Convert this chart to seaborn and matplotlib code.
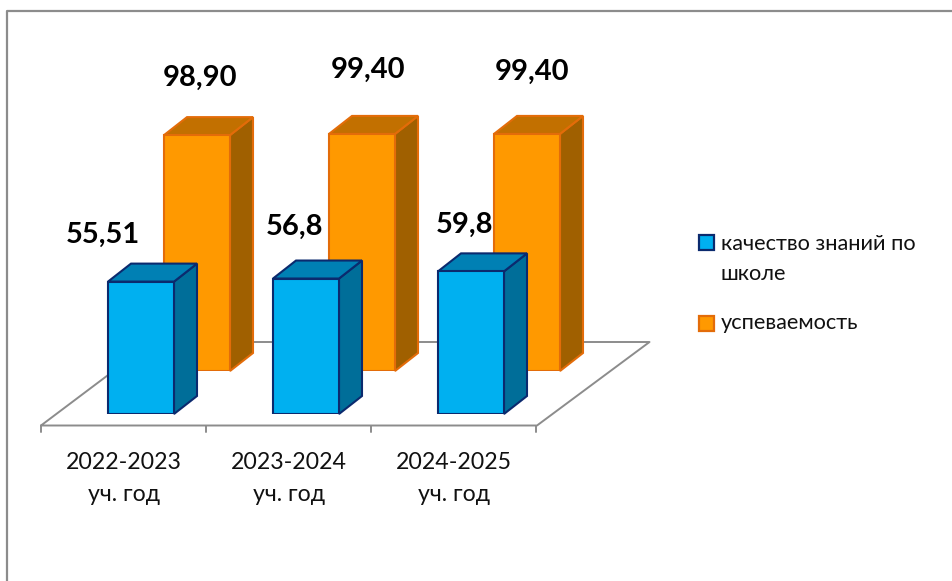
import pandas as pd
import matplotlib
matplotlib.use('Agg')
import matplotlib.pyplot as plt
from matplotlib.patches import Polygon, Rectangle
import seaborn as sns

# данные
years = ['2022-2023\nуч. год', '2023-2024\nуч. год', '2024-2025\nуч. год']
quality = [55.51, 56.8, 59.8]
progress = [98.9, 99.4, 99.4]
quality_labels = ['55,51', '56,8', '59,8']
progress_labels = ['98,90', '99,40', '99,40']
legend_names = ['качество знаний по\nшколе', 'успеваемость']

W, H = 952, 581
SCALE = 2.385      # пикселей на единицу значения
STEP = 165         # ширина категории в пикселях
DEPTH_X, DEPTH_Y = 23, 18

sns.set_theme(style='white')
plt.rcParams['font.family'] = ['Lato', 'Open Sans', 'DejaVu Sans']

fig = plt.figure(figsize=(W / 100, H / 100), dpi=100)

# подложка в пикселях: рамка, пол, подписи
base = fig.add_axes([0, 0, 1, 1])
base.set_xlim(0, W)
base.set_ylim(H, 0)
base.axis('off')
gray = '#8c8c8c'
base.plot([7, 7, W], [H, 11, 11], color=gray, lw=1.6)
base.plot([41, 152, 649.5, 537, 41], [425.5, 342, 342, 425.5, 425.5], color=gray, lw=1.4)
for i in range(4):
    base.plot([41 + i * STEP] * 2, [425.5, 432], color=gray, lw=1.4)
for i, name in enumerate(years):
    base.text(124 + i * STEP, 478.5, name, ha='center', va='center', fontsize=16.7,
              linespacing=1.65, color='#111111')


def bars_axes(left, bottom):
    # оси с рядом столбцов, смещённые для псевдо-3D
    ax = fig.add_axes([left / W, 1 - bottom / H, 3 * STEP / W, 110 * SCALE / H])
    ax.patch.set_alpha(0)
    return ax


def draw_series(ax, values, face, top, side, edge):
    df = pd.DataFrame({'year': years, 'value': values})
    sns.barplot(data=df, x='year', y='value', ax=ax, color=face, saturation=1, width=0.4,
                edgecolor=edge, linewidth=1.5, zorder=3)
    ax.set_xlim(-0.5, 2.5)
    ax.set_ylim(0, 110)
    ax.axis('off')
    dx = DEPTH_X / STEP
    dy = DEPTH_Y / SCALE
    for bar in ax.patches[:]:
        x0, x1 = bar.get_x(), bar.get_x() + bar.get_width()
        h = bar.get_height()
        ax.add_patch(Polygon([(x1, 0), (x1 + dx, dy), (x1 + dx, h + dy), (x1, h)],
                             facecolor=side, edgecolor=edge, lw=1.5, zorder=2, clip_on=False))
        ax.add_patch(Polygon([(x0, h), (x0 + dx, h + dy), (x1 + dx, h + dy), (x1, h)],
                             facecolor=top, edgecolor=edge, lw=1.5, zorder=2, clip_on=False))


back = bars_axes(114.5, 371)
draw_series(back, progress, '#ff9900', '#c27000', '#a06000', '#e36c09')
front = bars_axes(58.5, 414)
draw_series(front, quality, '#00b0f0', '#0080b4', '#006e99', '#0b2a6e')

# подписи значений
over = fig.add_axes([0, 0, 1, 1])
over.set_xlim(0, W)
over.set_ylim(H, 0)
over.axis('off')
quality_pos = [(103, 235), (295, 227), (465, 225)]
progress_pos = [(200, 78), (368, 70), (532, 72)]
for text, (x, y) in zip(quality_labels + progress_labels, quality_pos + progress_pos):
    over.text(x, y, text, ha='center', va='center', fontsize=21, fontweight='bold', color='black')

# легенда
over.add_patch(Rectangle((699, 235), 15, 15, facecolor='#00b0f0', edgecolor='#0b2a6e', lw=1.6))
over.add_patch(Rectangle((699, 315.5), 15, 15, facecolor='#ff9900', edgecolor='#e36c09', lw=1.6))
over.text(721, 259, legend_names[0], ha='left', va='center', fontsize=15.7, linespacing=1.65, color='#111111')
over.text(721, 323, legend_names[1], ha='left', va='center', fontsize=15.7, color='#111111')

plt.savefig('out.png', dpi=100)
